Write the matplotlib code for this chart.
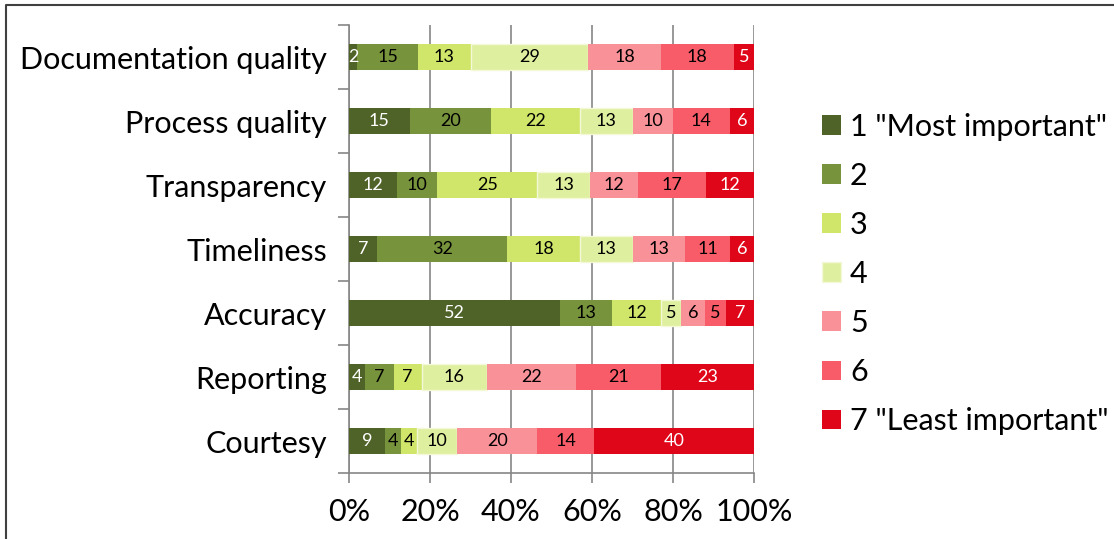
import numpy as np
import matplotlib
matplotlib.use("Agg")
import matplotlib.pyplot as plt
from matplotlib.lines import Line2D

plt.rcParams['font.family'] = ['Lato', 'DejaVu Sans']

# ranking counts per criterion, 1 = most important ... 7 = least important
criteria = ["Documentation quality", "Process quality", "Transparency",
            "Timeliness", "Accuracy", "Reporting", "Courtesy"]
rank_labels = ['1 "Most important"', '2', '3', '4', '5', '6',
               '7 "Least important"']
rank1 = [2, 15, 12, 7, 52, 4, 9]
rank2 = [15, 20, 10, 32, 13, 7, 4]
rank3 = [13, 22, 25, 18, 12, 7, 4]
rank4 = [29, 13, 13, 13, 5, 16, 10]
rank5 = [18, 10, 12, 13, 6, 22, 20]
rank6 = [18, 14, 17, 11, 5, 21, 14]
rank7 = [5, 6, 12, 6, 7, 23, 40]

colors = ['#4F6228', '#77933C', '#CFE66A', '#DFEFA0',
          '#F99298', '#F95C69', '#E0061A']
text_colors = ['white', 'black', 'black', 'black', 'black', 'black', 'white']

counts = np.array([rank1, rank2, rank3, rank4, rank5, rank6, rank7], dtype=float)
share = counts / counts.sum(axis=0) * 100

fig = plt.figure(figsize=(11.14, 5.39), dpi=100)
ax = fig.add_axes([349 / 1114, 1 - 473 / 539, 405 / 1114, 448 / 539])

y = np.arange(len(criteria))
left = np.zeros(len(criteria))
for k in range(7):
    edge = '#F3F9D8' if k == 3 else colors[k]
    bars = ax.barh(y, share[k], left=left, height=0.42, color=colors[k],
                   edgecolor=edge, linewidth=1.0 if k == 3 else 0,
                   label=rank_labels[k], zorder=3)
    for b, c in zip(bars, counts[k]):
        ax.text(b.get_x() + b.get_width() / 2, b.get_y() + b.get_height() / 2,
                f"{int(c)}", ha='center', va='center', fontsize=13,
                color=text_colors[k], zorder=4)
    left += share[k]

ax.set_xlim(0, 100)
ax.set_ylim(len(criteria) - 0.5, -0.5)
ax.set_xticks(np.arange(0, 101, 20))
ax.set_xticklabels([f"{v}%" for v in range(0, 101, 20)], fontsize=22)
ax.set_yticks(np.arange(-0.5, len(criteria), 1))
ax.set_yticklabels([])
ax.set_yticks(y, minor=True)
ax.set_yticklabels(criteria, minor=True, fontsize=22)

ax.tick_params(axis='y', which='major', length=8, width=1.2, color='#868686')
ax.tick_params(axis='y', which='minor', length=0, pad=16)
ax.tick_params(axis='x', length=7, width=1.2, color='#868686', pad=11)
ax.xaxis.grid(True, color='#868686', linewidth=1.2, zorder=0)
ax.set_axisbelow(True)
for side in ['top', 'right']:
    ax.spines[side].set_visible(False)
for side in ['left', 'bottom']:
    ax.spines[side].set_color('#868686')
    ax.spines[side].set_linewidth(1.2)

ax.legend(loc='center left', bbox_to_anchor=(822 / 1114, 1 - 274 / 539),
          bbox_transform=fig.transFigure, frameon=False, fontsize=22,
          handlelength=0.62, handleheight=0.62, handletextpad=0.3,
          labelspacing=0.69, borderpad=0, borderaxespad=0)

# outer chart frame
fig.add_artist(Line2D([6 / 1114, 6 / 1114, 1], [0, 1 - 5 / 539, 1 - 5 / 539],
                      transform=fig.transFigure, color='#404040', linewidth=1.5))

fig.savefig("out.png", dpi=100, facecolor='white')
